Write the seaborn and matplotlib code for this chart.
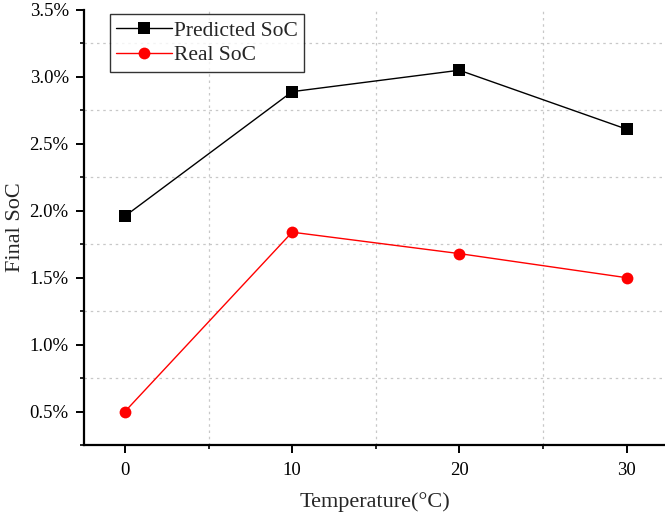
import matplotlib
matplotlib.use("Agg")
import matplotlib.pyplot as plt
import seaborn as sns
import pandas as pd
from matplotlib.ticker import MultipleLocator, FuncFormatter

temperature = [0, 10, 20, 30]
predicted_soc = [1.96, 2.89, 3.05, 2.61]
real_soc = [0.50, 1.84, 1.68, 1.50]
x_ticks = [0, 10, 20, 30]
y_ticks = [0.5, 1.0, 1.5, 2.0, 2.5, 3.0, 3.5]

sns.set_style("white")
plt.rcParams['font.family'] = ['Liberation Serif', 'DejaVu Serif']

df = pd.DataFrame({
    "Temperature": temperature * 2,
    "SoC": predicted_soc + real_soc,
    "Series": ["Predicted SoC"] * 4 + ["Real SoC"] * 4,
})

fig = plt.figure(figsize=(6.65, 5.19), dpi=100)
ax = fig.add_axes([84 / 665, 1 - 445 / 519, 1 - 84 / 665, (445 - 10) / 519])

sns.lineplot(data=df[df.Series == "Predicted SoC"], x="Temperature", y="SoC",
             color="black", marker="s", markersize=8, markeredgewidth=0,
             linewidth=1.0, label="Predicted SoC", ax=ax)
sns.lineplot(data=df[df.Series == "Real SoC"], x="Temperature", y="SoC",
             color="red", marker="o", markersize=8.5, markeredgewidth=0,
             linewidth=1.0, label="Real SoC", ax=ax)

ax.set_xlim(-2.45, 32.3)
ax.set_ylim(0.25, 3.5)
ax.set_xticks(x_ticks)
ax.set_yticks(y_ticks)
ax.xaxis.set_minor_locator(MultipleLocator(5))
ax.yaxis.set_minor_locator(MultipleLocator(0.25))
ax.yaxis.set_major_formatter(FuncFormatter(lambda v, p: f"{v:.1f}%"))

ax.grid(False)
ax.grid(which="minor", color="#c8c8c8", linestyle=(0, (2, 3)), linewidth=0.9)

for s in ["top", "right"]:
    ax.spines[s].set_visible(False)
for s in ["left", "bottom"]:
    ax.spines[s].set_color("black")
    ax.spines[s].set_linewidth(1.6)

ax.tick_params(axis="both", which="major", direction="out", length=6, width=1.4,
               labelsize=13.5, colors="black", bottom=True, left=True)
ax.tick_params(axis="x", which="major", pad=6)
ax.tick_params(axis="y", which="major", pad=5)
ax.tick_params(axis="both", which="minor", direction="out", length=3.2, width=1.2,
               colors="black", bottom=True, left=True)

ax.set_xlabel("Temperature(°C)", fontsize=16, labelpad=10)
ax.set_ylabel("Final SoC", fontsize=16, labelpad=3)

leg = ax.legend(loc="upper left", bbox_to_anchor=(26 / 581, 1 - 4 / 435),
                fontsize=15.5, frameon=True, fancybox=False, handlelength=2.6,
                handletextpad=0.05, borderpad=0.3, labelspacing=0.22,
                borderaxespad=0)
leg.get_frame().set_edgecolor("black")
leg.get_frame().set_linewidth(1.0)

fig.savefig("out.png", dpi=100)
